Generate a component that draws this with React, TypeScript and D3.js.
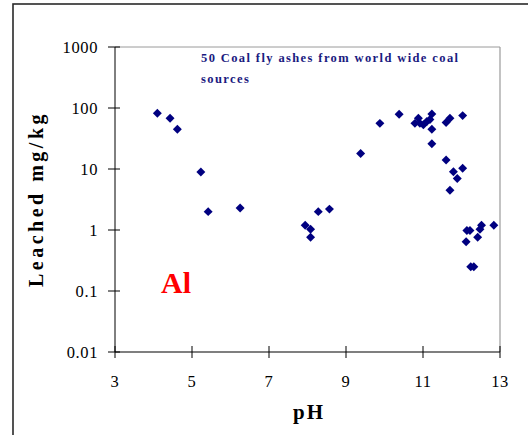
import React from "react";
import * as d3 from "d3";

const phValues = [
  4.1, 4.43, 4.62, 5.23, 5.42, 6.25, 7.94, 8.08, 8.08, 8.28, 8.57, 9.38, 9.88, 10.38,
  10.79, 10.88, 10.92, 11.01, 11.1, 11.18, 11.23, 11.23, 11.23, 11.6, 11.7, 12.03,
  11.6, 11.79, 12.03, 11.89, 11.7, 12.14, 12.22, 12.12, 12.42, 12.48, 12.52, 12.84,
  12.24, 12.32,
];
const leached = [
  82, 68, 45, 8.9, 2.0, 2.3, 1.2, 1.03, 0.76, 2.0, 2.2, 18, 56, 79,
  56, 68, 56, 53, 60, 65, 80, 45, 26, 58, 68, 75,
  14, 9.0, 10.3, 7.0, 4.5, 0.98, 0.98, 0.64, 0.76, 1.03, 1.2, 1.2,
  0.25, 0.25,
];
const xTicks = [3, 5, 7, 9, 11, 13];
const yTicks = [0.01, 0.1, 1, 10, 100, 1000];
const yTickLabels = ["0.01", "0.1", "1", "10", "100", "1000"];

const W = 528;
const H = 435;
const left = 115;
const right = 500;
const top = 47;
const bottom = 352;

const serif = "Liberation Serif, DejaVu Serif, serif";

export default function App() {
  const x = d3.scaleLinear().domain([3, 13]).range([left, right]);
  const y = d3.scaleLog().domain([0.01, 1000]).range([bottom, top]);
  const diamond = d3.symbol(d3.symbolSquare, 40)();

  return (
    <svg
      width={W}
      height={H}
      style={{ position: "absolute", left: 0, top: 0, background: "#fff", fontFamily: serif }}
    >
      {/* outer frame */}
      <rect x={13} y={4} width={W + 10} height={H + 10} fill="#fff" stroke="#2a2a2a" strokeWidth={1.6} />
      {/* plot box */}
      <line x1={left} x2={right} y1={top} y2={top} stroke="#9a9a9a" strokeWidth={1} />
      <line x1={right} x2={right} y1={top} y2={bottom} stroke="#9a9a9a" strokeWidth={1.2} />
      {/* axes */}
      <line x1={left} x2={left} y1={top} y2={bottom} stroke="#000" strokeWidth={1} />
      <line x1={left} x2={right} y1={bottom} y2={bottom} stroke="#000" strokeWidth={1.2} />
      {yTicks.map((t, i) => (
        <g key={"y" + t}>
          <line x1={left - 7} x2={left + 5} y1={y(t)} y2={y(t)} stroke="#000" strokeWidth={1} />
          <text
            x={98}
            y={y(t) + 5.5}
            textAnchor="end"
            style={{ fontFamily: serif }}
            fontSize={16.5}
            letterSpacing={0.6}
            fill="#000"
          >
            {yTickLabels[i]}
          </text>
        </g>
      ))}
      {xTicks.map((t) => (
        <g key={"x" + t}>
          <line x1={x(t)} x2={x(t)} y1={bottom - 6} y2={bottom + 6} stroke="#000" strokeWidth={1} />
          <text
            x={x(t)}
            y={387}
            textAnchor="middle"
            style={{ fontFamily: serif }}
            fontSize={16.5}
            letterSpacing={0.6}
            fill="#000"
          >
            {t}
          </text>
        </g>
      ))}
      {/* points */}
      {phValues.map((p, i) => (
        <path
          key={i}
          d={diamond}
          transform={`translate(${x(p)},${y(leached[i])}) rotate(45)`}
          fill="#000080"
        />
      ))}
      {/* annotation */}
      <text x={201} y={62} style={{ fontFamily: serif }} fontWeight="bold" fontSize={12.5} fill="#1a1a80" textLength={257} lengthAdjust="spacing">
        50 Coal fly ashes from world wide coal
      </text>
      <text x={201} y={83} style={{ fontFamily: serif }} fontWeight="bold" fontSize={12.5} fill="#1a1a80" letterSpacing={1.4}>
        sources
      </text>
      <text x={161} y={293} style={{ fontFamily: serif }} fontWeight="bold" fontSize={30} fill="#ff0000">
        Al
      </text>
      {/* axis titles */}
      <text
        transform={`translate(43,199) rotate(-90)`}
        textAnchor="middle"
        style={{ fontFamily: serif }}
        fontWeight="bold"
        fontSize={20}
        letterSpacing={3.5}
        fill="#000"
      >
        Leached mg/kg
      </text>
      <text x={309} y={419} textAnchor="middle" style={{ fontFamily: serif }} fontWeight="bold" fontSize={21} letterSpacing={2} fill="#000">
        pH
      </text>
    </svg>
  );
}
